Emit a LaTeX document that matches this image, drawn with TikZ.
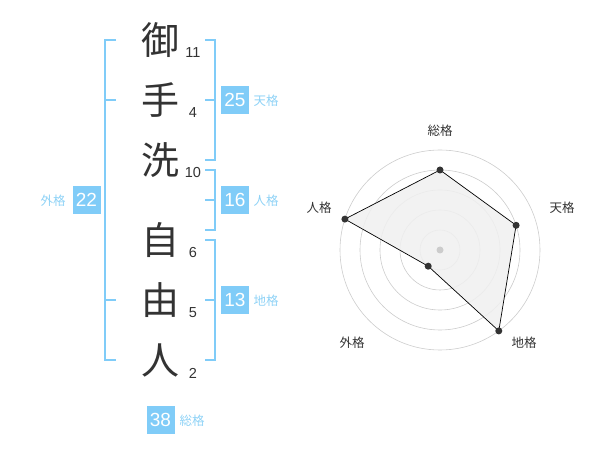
\documentclass[tikz,border=0pt]{standalone}
\usepackage{fontspec}
\setmainfont{Liberation Sans}
\newfontfamily\cjk{Noto Sans CJK JP}
\definecolor{kblue}{HTML}{80CCF8}
\definecolor{klabel}{HTML}{8ED2F6}
\definecolor{kdark}{HTML}{333333}
\definecolor{kgrid}{HTML}{CCCCCC}
\definecolor{kfill}{HTML}{F0F0F0}
\tikzset{
  kanji/.style={font=\cjk\fontsize{38}{38}\selectfont, text=kdark, inner sep=0pt},
  stroke/.style={font=\fontsize{14.5}{14.5}\selectfont, text=kdark, inner sep=0pt},
  bracket/.style={draw=kblue, line width=2pt},
  numbox/.style={fill=kblue, text=white, font=\fontsize{19}{19}\selectfont, minimum width=28pt, minimum height=28pt, inner sep=0pt},
  kaku/.style={text=klabel, font=\cjk\fontsize{12.5}{12.5}\selectfont, inner sep=0pt},
  axislabel/.style={text=kdark, font=\cjk\fontsize{12.5}{12.5}\selectfont, inner sep=0pt},
  ring/.style={draw=kgrid, line width=0.6pt},
  datadot/.style={circle, fill=kdark, minimum size=7pt, inner sep=0pt},
}
\begin{document}
\begin{tikzpicture}[x=1pt,y=-1pt]
\useasboundingbox (0,0) rectangle (600,470);
% kanji
\node[kanji] (k1) at (160,40) {御};
\node[kanji] (k2) at (160,100) {手};
\node[kanji] (k3) at (160,160) {洗};
\node[kanji] (k4) at (160,240) {自};
\node[kanji] (k5) at (160,300) {由};
\node[kanji] (k6) at (160,360) {人};
% stroke counts
\node[stroke] (s1) at (193,53) {11};
\node[stroke] (s2) at (193,113) {4};
\node[stroke] (s3) at (193,173) {10};
\node[stroke] (s4) at (193,253) {6};
\node[stroke] (s5) at (193,313) {5};
\node[stroke] (s6) at (193,373) {2};
% left bracket (gaikaku)
\draw[bracket] (116,40) -- (105,40) -- (105,360) -- (116,360);
\draw[bracket] (105,100) -- (116,100);
\draw[bracket] (105,300) -- (116,300);
\node[numbox] (gai) at (86.5,200) {22};
\node[kaku] (gail) at (53,201) {外格};
% right brackets
\draw[bracket] (205,40) -- (215,40) -- (215,160) -- (205,160);
\draw[bracket] (205,100) -- (215,100);
\node[numbox] (ten) at (235,100) {25};
\node[kaku] (tenl) at (266,101) {天格};
\draw[bracket] (205,170) -- (215,170) -- (215,230) -- (205,230);
\draw[bracket] (205,200) -- (215,200);
\node[numbox] (jin) at (235,200) {16};
\node[kaku] (jinl) at (266,201) {人格};
\draw[bracket] (205,240) -- (215,240) -- (215,360) -- (205,360);
\draw[bracket] (205,300) -- (215,300);
\node[numbox] (chi) at (235,300) {13};
\node[kaku] (chil) at (266,301) {地格};
% total
\node[numbox] (sou) at (160.5,420) {38};
\node[kaku] (soul) at (192,421) {総格};
% radar chart
\coordinate (c) at (440,250);
\foreach \r in {20,40,60,80,100} \draw[ring] (c) circle (\r);
\coordinate (p1) at (440,170);
\coordinate (p2) at (516.1,225.3);
\coordinate (p3) at (498.8,330.9);
\coordinate (p4) at (428.2,266.2);
\coordinate (p5) at (344.9,219.1);
\fill[kfill, opacity=0.85] (p1) -- (p2) -- (p3) -- (p4) -- (p5) -- cycle;
\draw[black, line width=0.7pt] (p1) -- (p2) -- (p3) -- (p4) -- (p5) -- cycle;
\node[circle, fill=kgrid, minimum size=7pt, inner sep=0pt] (ctr) at (c) {};
\foreach \p in {p1,p2,p3,p4,p5} \node[datadot] at (\p) {};
\node[axislabel] (a1) at (440,131) {総格};
\node[axislabel] (a2) at (562,208) {天格};
\node[axislabel] (a3) at (524,343) {地格};
\node[axislabel] (a4) at (352,343) {外格};
\node[axislabel] (a5) at (319,208) {人格};
\end{tikzpicture}
\end{document}
